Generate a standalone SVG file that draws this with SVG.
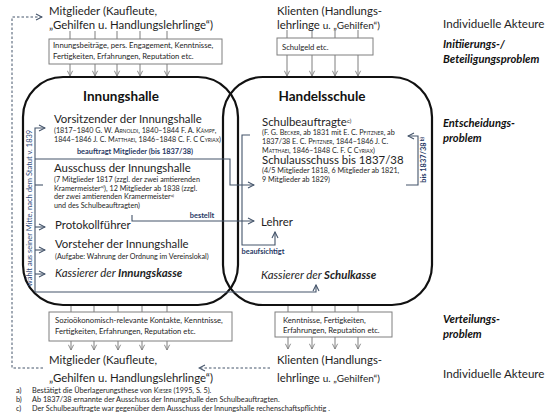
<svg xmlns="http://www.w3.org/2000/svg" width="560" height="420" viewBox="0 0 560 420">
<style>
text{font-family:Lato,"Liberation Sans",sans-serif;fill:#1e1e1e}
.h{font-size:11.4px}
.s{font-size:7.2px}
.sb{font-size:7.7px}
.t{font-size:13.5px;font-weight:bold;fill:#111}
.r{font-size:11.6px}
.rb{font-size:11.2px;font-weight:bold;font-style:italic;fill:#111}
.lb{font-size:7.4px;font-weight:bold;fill:#1f3864}
.fn{font-size:7.3px}
.sc{font-variant:small-caps}
.box{fill:#fff;stroke:#7f7f7f;stroke-width:1}
.hall{fill:none;stroke:#111;stroke-width:2.2}
.g{fill:none;stroke:#7f7f7f;stroke-width:1}
.b{fill:none;stroke:#44546a;stroke-width:1.1}
.d{fill:none;stroke:#44546a;stroke-width:1;stroke-dasharray:2.5,2}
</style>
<defs>
<marker id="ag" viewBox="0 0 8 8" refX="7" refY="4" markerWidth="7" markerHeight="7" markerUnits="userSpaceOnUse" orient="auto"><path d="M1,1 L7,4 L1,7" fill="none" stroke="#7f7f7f" stroke-width="1"/></marker>
<marker id="ab" viewBox="0 0 8 8" refX="7" refY="4" markerWidth="8" markerHeight="8" markerUnits="userSpaceOnUse" orient="auto"><path d="M1,1 L7,4 L1,7" fill="none" stroke="#44546a" stroke-width="1.1"/></marker>
</defs>

<g id="halls">
<rect id="innungshalle-shape" class="hall" x="23" y="77" width="215" height="228" rx="40" ry="40"/>
<rect id="handelsschule-shape" class="hall" x="223" y="77" width="209" height="228" rx="40" ry="40"/>
</g>

<g id="connectors">
<path class="g" d="M70,31V39M95,31V39M117,31V39M140,31V39M167,31V39"/>
<path class="g" d="M70,64V76" marker-end="url(#ag)"/>
<path class="g" d="M95,64V76" marker-end="url(#ag)"/>
<path class="g" d="M117,64V76" marker-end="url(#ag)"/>
<path class="g" d="M140,64V76" marker-end="url(#ag)"/>
<path class="g" d="M167,64V76" marker-end="url(#ag)"/>
<path class="g" d="M287,30V38M312,30V38M335,30V38M358,30V38"/>
<path class="g" d="M287,55V76" marker-end="url(#ag)"/>
<path class="g" d="M312,55V76" marker-end="url(#ag)"/>
<path class="g" d="M335,55V76" marker-end="url(#ag)"/>
<path class="g" d="M358,55V76" marker-end="url(#ag)"/>
<path class="g" d="M71,306V312M94,306V312M118,306V312M142,306V312M167,306V312"/>
<path class="g" d="M71,341V350" marker-end="url(#ag)"/>
<path class="g" d="M94,341V350" marker-end="url(#ag)"/>
<path class="g" d="M118,341V350" marker-end="url(#ag)"/>
<path class="g" d="M142,341V350" marker-end="url(#ag)"/>
<path class="g" d="M167,341V350" marker-end="url(#ag)"/>
<path class="g" d="M288,306V312M312,306V312M335,306V312M358,306V312"/>
<path class="g" d="M288,337V349" marker-end="url(#ag)"/>
<path class="g" d="M312,337V349" marker-end="url(#ag)"/>
<path class="g" d="M335,337V349" marker-end="url(#ag)"/>
<path class="g" d="M358,337V349" marker-end="url(#ag)"/>
<path class="d" d="M43,368H12V17H42" marker-end="url(#ab)"/>
<path class="d" d="M270,368H199" marker-end="url(#ab)"/>
<path class="b" d="M35,292V128H45" marker-end="url(#ab)"/>
<path class="b" d="M35,185H43"/>
<path class="b" d="M35,227H45" marker-end="url(#ab)"/>
<path class="b" d="M35,250H45" marker-end="url(#ab)"/>
<path class="b" d="M35,274H45" marker-end="url(#ab)"/>
<path class="b" d="M35,159H230V185H254" marker-end="url(#ab)"/>
<path class="b" d="M35,292H316V285" marker-end="url(#ab)"/>
<path class="b" d="M132,215V221H254" marker-end="url(#ab)"/>
<path class="b" d="M250,135H242V245H275V232" marker-end="url(#ab)"/>
<path class="b" d="M406,185H418V136H408" marker-end="url(#ab)"/>
<text class="lb" x="135" y="154" text-anchor="middle">beauftragt Mitglieder (bis 1837/38)</text>
<text class="lb" x="202" y="218" text-anchor="middle">bestellt</text>
<text class="lb" x="263" y="254" text-anchor="middle">beaufsichtigt</text>
<text class="lb" transform="translate(426,160) rotate(-90)" text-anchor="middle">bis  1837/38<tspan font-size="5" dy="-2.5"> b)</tspan></text>
<text class="s" style="fill:#2f4a7a;font-size:7.5px" transform="translate(32,208) rotate(-90)" text-anchor="middle">wählt aus seiner Mitte, nach dem Statut v. 1839</text>
</g>

<g id="mitglieder-top">
<text class="h" x="49" y="15">Mitglieder (Kaufleute,</text>
<text class="h" x="49" y="29">„Gehilfen u. Handlungslehrlinge“)</text>
</g>
<g id="beitraege-box">
<rect class="box" x="49" y="39" width="173" height="25"/>
<text class="sb" x="53" y="48">Innungsbeiträge, pers. Engagement, Kenntnisse,</text>
<text class="sb" x="53" y="58.5">Fertigkeiten, Erfahrungen, Reputation etc.</text>
</g>
<g id="klienten-top">
<text class="h" x="277" y="15">Klienten (Handlungs-</text>
<text class="h" x="277" y="29">lehrlinge <tspan font-size="10">u. „Gehilfen“)</tspan></text>
</g>
<g id="schulgeld-box">
<rect class="box" x="277" y="38" width="96" height="17"/>
<text class="sb" x="282" y="49.5">Schulgeld etc.</text>
</g>

<g id="innungshalle">
<text class="t" x="121" y="101" text-anchor="middle">Innungshalle</text>
</g>
<g id="vorsitzender">
<text class="h" x="54" y="123">Vorsitzender der Innungshalle</text>
<text class="s" x="54" y="133">(1817–1840 G. W. <tspan class="sc">Arnoldi</tspan>, 1840–1844 F. A. <tspan class="sc">Kämpf</tspan>,</text>
<text class="s" x="54" y="142">1844–1846 J. C. <tspan class="sc">Matthaei</tspan>, 1846–1848 C. F. C <tspan class="sc">Cyriax</tspan>)</text>
</g>
<g id="ausschuss">
<text class="h" x="54" y="172">Ausschuss der Innungshalle</text>
<text class="s" x="54" y="182">(7 Mitglieder 1817 (zzgl. der  zwei amtierenden</text>
<text class="s" x="54" y="190.5">Kramermeister<tspan font-size="4.5" dy="-2.5">a)</tspan><tspan dy="2.5">),  12 Mitglieder ab 1838 (zzgl.</tspan></text>
<text class="s" x="54" y="199">der zwei amtierenden Kramermeister<tspan font-size="4.5" dy="-2.5">a)</tspan></text>
<text class="s" x="54" y="207.5">und des Schulbeauftragten)</text>
</g>
<g id="protokollfuehrer">
<text class="h" x="55" y="229">Protokollführer</text>
</g>
<g id="vorsteher">
<text class="h" x="55" y="248">Vorsteher der Innungshalle</text>
<text class="s" x="55" y="259">(Aufgabe: Wahrung der Ordnung im Vereinslokal)</text>
</g>
<g id="kassierer-innung">
<text class="h" x="55" y="277" font-style="italic">Kassierer der <tspan font-weight="bold">Innungskasse</tspan></text>
</g>

<g id="handelsschule">
<text class="t" x="322" y="101" text-anchor="middle">Handelsschule</text>
</g>
<g id="schulbeauftragte">
<text class="h" x="262" y="126">Schulbeauftragte<tspan font-size="6" dy="-3.5">c)</tspan></text>
<text class="s" x="262" y="135">(F. G. <tspan class="sc">Becker</tspan>, ab 1831 mit E. C. <tspan class="sc">Pfitzner</tspan>, ab</text>
<text class="s" x="262" y="144">1837/38 E. C. <tspan class="sc">Pfitzner</tspan>, 1844–1846 J. C.</text>
<text class="s" x="262" y="152.5"><tspan class="sc">Matthaei</tspan>, 1846–1848 C. F. C <tspan class="sc">Cyriax</tspan>)</text>
</g>
<g id="schulausschuss">
<text class="h" x="262" y="164">Schulausschuss bis 1837/38</text>
<text class="s" x="262" y="173">(4/5 Mitglieder 1818, 6 Mitglieder ab 1821,</text>
<text class="s" x="262" y="181.5">9 Mitglieder ab 1829)</text>
</g>
<g id="lehrer">
<text class="h" x="261" y="226">Lehrer</text>
</g>
<g id="kassierer-schule">
<text class="h" x="261" y="279" font-style="italic">Kassierer der <tspan font-weight="bold">Schulkasse</tspan></text>
</g>

<g id="kontakte-box">
<rect class="box" x="49" y="312" width="183" height="29"/>
<text class="sb" x="55" y="323">Sozioökonomisch-relevante Kontakte, Kenntnisse,</text>
<text class="sb" x="55" y="334">Fertigkeiten, Erfahrungen, Reputation etc.</text>
</g>
<g id="mitglieder-bottom">
<text class="h" x="49" y="364">Mitglieder (Kaufleute,</text>
<text class="h" x="49" y="382">„Gehilfen u. Handlungslehrlinge“)</text>
</g>
<g id="kenntnisse-box">
<rect class="box" x="275" y="312" width="117" height="25"/>
<text class="sb" x="283" y="323">Kenntnisse, Fertigkeiten,</text>
<text class="sb" x="283" y="333">Erfahrungen, Reputation etc.</text>
</g>
<g id="klienten-bottom">
<text class="h" x="277" y="364">Klienten (Handlungs-</text>
<text class="h" x="277" y="382">lehrlinge <tspan font-size="10">u. „Gehilfen“)</tspan></text>
</g>

<g id="levels">
<text class="r" x="443" y="28">Individuelle Akteure</text>
<text class="rb" x="443" y="48">Initiierungs-/</text>
<text class="rb" x="443" y="63">Beteiligungsproblem</text>
<text class="rb" x="443" y="127">Entscheidungs-</text>
<text class="rb" x="443" y="142">problem</text>
<text class="rb" x="443" y="323">Verteilungs-</text>
<text class="rb" x="443" y="338">problem</text>
<text class="r" x="443" y="378">Individuelle Akteure</text>
</g>

<g id="footnotes">
<text class="fn" x="16" y="393">a)</text>
<text class="fn" x="32" y="393">Bestätigt die Überlagerungsthese von <tspan class="sc">Kieser</tspan> (1995, S. 5).</text>
<text class="fn" x="16" y="402">b)</text>
<text class="fn" x="32" y="402">Ab 1837/38 ernannte der Ausschuss der Innungshalle  den Schulbeauftragten.</text>
<text class="fn" x="16" y="411">c)</text>
<text class="fn" x="32" y="411">Der Schulbeauftragte war gegenüber dem Ausschuss der Innungshalle rechenschaftspflichtig .</text>
</g>
</svg>
